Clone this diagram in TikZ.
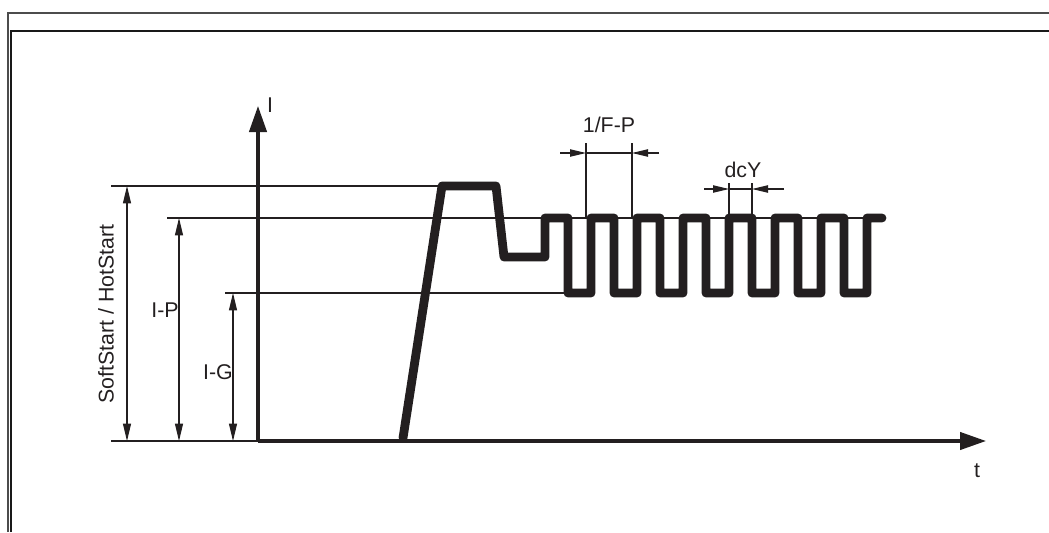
\documentclass[tikz,border=0pt]{standalone}
\usepackage{fontspec}
\setmainfont{Liberation Sans}
\usetikzlibrary{arrows.meta}
\definecolor{ink}{HTML}{231F20}
\tikzset{
  thin line/.style={draw=ink, line width=0.8pt},
  axisline/.style={draw=ink, line width=2.4pt, -{Triangle[length=19.5pt,width=13pt]}},
  wave/.style={draw=ink, line width=6.6pt, line join=round, line cap=round},
  dimarrow/.style={draw=ink, line width=0.8pt, {Triangle[length=13pt,width=6pt]}-{Triangle[length=13pt,width=6pt]}},
  dimin/.style={draw=ink, line width=0.8pt, -{Triangle[length=12pt,width=5.5pt]}},
  lbl/.style={text=ink, inner sep=0pt, font=\fontsize{16}{19}\selectfont},
  frameouter/.style={draw=black!70, line width=1.1pt},
  frameinner/.style={draw=black!90, line width=2.2pt}
}
\begin{document}
\begin{tikzpicture}[x=0.75pt,y=-0.75pt]
\useasboundingbox (0,0) rectangle (1049,532);
% window frame
\coordinate (fo1) at (8,532); \coordinate (fo2) at (8,13); \coordinate (fo3) at (1049,13);
\coordinate (fi1) at (11,532); \coordinate (fi2) at (11,31); \coordinate (fi3) at (1049,31);
\draw[frameouter] (fo1) -- (fo2) -- (fo3);
\draw[frameinner] (fi1) -- (fi2) -- (fi3);
% axes
\coordinate (O) at (258,441);
\coordinate (ytip) at (258,106);
\coordinate (xtip) at (986,441);
\draw[axisline] (O) -- (ytip);
\draw[axisline] (O) -- (xtip);
\node[lbl] (lI) at (270,105) {I};
\node[lbl] (lt) at (977,471) {t};
% reference levels
\coordinate (hs0) at (111,186); \coordinate (hs1) at (442,186);
\coordinate (ip0) at (167,218); \coordinate (ip1) at (880,218);
\coordinate (ig0) at (225,293); \coordinate (ig1) at (568,293);
\coordinate (b0) at (111,441);
\draw[thin line] (hs0) -- (hs1);
\draw[thin line] (ip0) -- (ip1);
\draw[thin line] (ig0) -- (ig1);
\draw[thin line] (b0) -- (O);
% vertical dimension arrows
\coordinate (hsT) at (127,186); \coordinate (hsB) at (127,441);
\coordinate (ipT) at (179,218); \coordinate (ipB) at (179,441);
\coordinate (igT) at (233,293); \coordinate (igB) at (233,441);
\draw[dimarrow] (hsT) -- (hsB);
\draw[dimarrow] (ipT) -- (ipB);
\draw[dimarrow] (igT) -- (igB);
\node[lbl, rotate=90] (lhs) at (106,314) {SoftStart / HotStart};
\node[lbl] (lip) at (165,310) {I-P};
\node[lbl] (lig) at (218,372) {I-G};
% waveform
\coordinate (w0) at (403,438);
\draw[wave] (w0) -- (442,186) -- (496,186) -- (504,257) -- (545,257) -- (545,218)
  \foreach \k in {0,...,6} { -- ({568+46*\k},218) -- ({568+46*\k},293) -- ({591+46*\k},293) -- ({591+46*\k},218) }
  -- (882,218);
% 1/F-P dimension
\coordinate (fa0) at (586,143); \coordinate (fa1) at (586,218);
\coordinate (fb0) at (632,143); \coordinate (fb1) at (632,218);
\coordinate (fl) at (560,153); \coordinate (flt) at (586,153);
\coordinate (fr) at (659,153); \coordinate (frt) at (632,153);
\draw[thin line] (fa0) -- (fa1);
\draw[thin line] (fb0) -- (fb1);
\draw[thin line] (flt) -- (frt);
\draw[dimin] (fl) -- (flt);
\draw[dimin] (fr) -- (frt);
\node[lbl] (lf) at (609,125) {1/F-P};
% dcY dimension
\coordinate (da0) at (729,183); \coordinate (da1) at (729,218);
\coordinate (db0) at (752,183); \coordinate (db1) at (752,218);
\coordinate (dl) at (704,189); \coordinate (dlt) at (729,189);
\coordinate (dr) at (784,189); \coordinate (drt) at (752,189);
\draw[thin line] (da0) -- (da1);
\draw[thin line] (db0) -- (db1);
\draw[thin line] (dlt) -- (drt);
\draw[dimin] (dl) -- (dlt);
\draw[dimin] (dr) -- (drt);
\node[lbl] (ld) at (743,170) {dcY};
\end{tikzpicture}
\end{document}
